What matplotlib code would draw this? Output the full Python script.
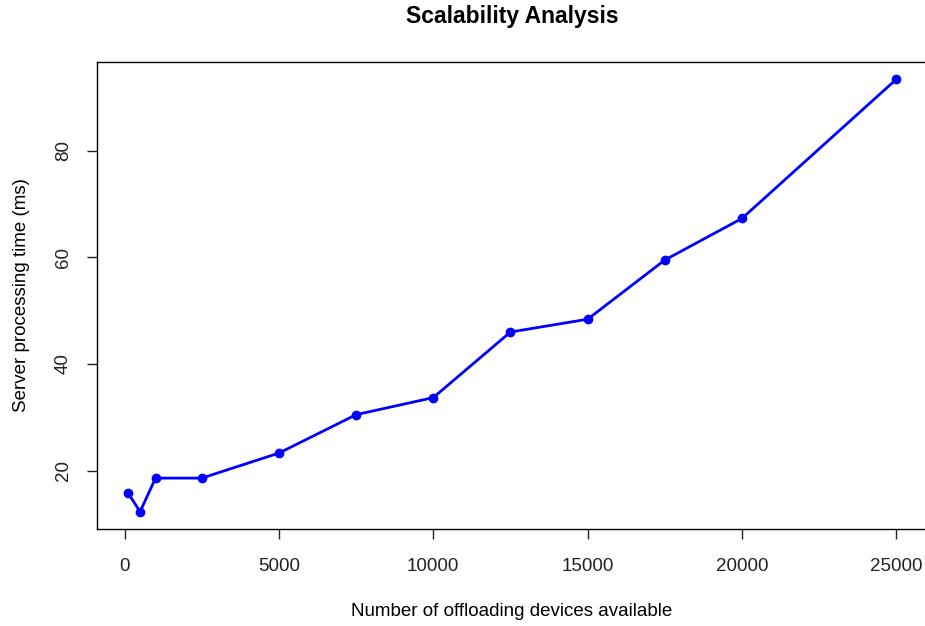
import matplotlib
matplotlib.use("Agg")
import matplotlib.pyplot as plt

plt.rcParams['font.family'] = ['Liberation Sans', 'DejaVu Sans']

# Data
devices = [100, 500, 1000, 2500, 5000, 7500, 10000, 12500, 15000, 17500, 20000, 25000]
proc_time = [15.9, 12.3, 18.6, 18.6, 23.3, 30.5, 33.7, 46.0, 48.4, 59.5, 67.3, 93.4]
x_ticks = [0, 5000, 10000, 15000, 20000, 25000]
y_ticks = [20, 40, 60, 80]

fig = plt.figure(figsize=(9.25, 6.26), dpi=100)
ax = fig.add_axes([97/925, 1 - 529/626, 830/925, 467/626])

ax.plot(devices, proc_time, color='blue', linewidth=2, marker='o', markersize=6)

# R-style 4% padding
xr = max(devices) - min(devices)
yr = max(proc_time) - min(proc_time)
ax.set_xlim(min(devices) - 0.04 * xr, max(devices) + 0.04 * xr)
ax.set_ylim(min(proc_time) - 0.04 * yr, max(proc_time) + 0.04 * yr)

ax.set_xticks(x_ticks)
ax.set_yticks(y_ticks)
ax.set_xticklabels([str(v) for v in x_ticks])
ax.set_yticklabels([str(v) for v in y_ticks], rotation=90, va='center')
ax.tick_params(direction='out', length=7, width=1, labelsize=13.5, colors='#222222')
ax.tick_params(axis='x', pad=14)
ax.tick_params(axis='y', pad=11)
for s in ax.spines.values():
    s.set_linewidth(1)

ax.set_xlabel('Number of offloading devices available', fontsize=13.5, labelpad=20)
ax.set_ylabel('Server processing time (ms)', fontsize=13.5, labelpad=18)
# title centred over the plot region, like R
fig.text(512/925, 1 - 17/626, 'Scalability Analysis', fontsize=16.5, fontweight='bold',
         ha='center', va='center')

fig.savefig('out.png', dpi=100)
